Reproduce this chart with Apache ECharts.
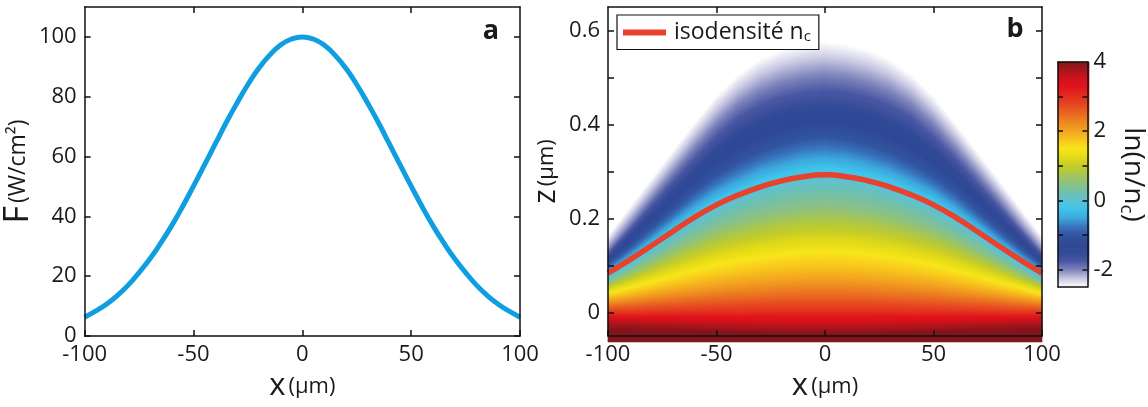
<!DOCTYPE html>
<html><head><meta charset="utf-8">
<script src="https://cdn.jsdelivr.net/npm/echarts@6/dist/echarts.min.js"></script>
<style>html,body{margin:0;padding:0;background:#fff}#c{width:1148px;height:407px}</style>
</head><body><div id="c"></div>
<script>
// ---------- Panel a : flux F(x) ----------
const xA = [-100,-95,-90,-85,-80,-75,-70,-65,-60,-55,-50,-45,-40,-35,-30,-25,-20,-15,-10,-5,0,
            5,10,15,20,25,30,35,40,45,50,55,60,65,70,75,80,85,90,95,100];
const fluxA = [6.3,8.3,10.6,13.5,17.0,21.2,25.8,31.1,36.9,43.3,50.1,57.1,64.2,71.3,77.9,84.1,89.5,93.9,97.3,99.3,100,
               99.3,97.3,93.9,89.5,84.1,77.9,71.3,64.2,57.1,50.1,43.3,36.9,31.1,25.8,21.2,17.0,13.5,10.6,8.3,6.3];

// ---------- Panel b : isodensity n_c line ----------
const xIso = [-100,-90,-80,-70,-60,-50,-40,-30,-20,-10,0,10,20,30,40,50,60,70,80,90,100];
const zIso = [0.084,0.112,0.142,0.173,0.203,0.229,0.250,0.267,0.280,0.289,0.293,
              0.289,0.280,0.267,0.250,0.229,0.203,0.173,0.142,0.112,0.084];

// ---------- Panel b : contour heights z (µm) of ln(n/nc) levels, at |x| = 0..100 ----------
const profileX = [0,10,20,30,40,50,60,70,80,90,100];
const contourLevels = [-2.5,-2,-1.5,-1,-0.5,0,0.5,1,1.5,2,2.5,3,3.5,4];
const zLevelM25 = [0.578,0.572,0.561,0.541,0.509,0.464,0.409,0.350,0.291,0.231,0.172];
const zLevelM20 = [0.510,0.505,0.494,0.476,0.448,0.407,0.357,0.304,0.250,0.195,0.142];
const zLevelM15 = [0.440,0.436,0.427,0.411,0.387,0.352,0.309,0.264,0.218,0.172,0.126];
const zLevelM10 = [0.380,0.375,0.363,0.347,0.325,0.298,0.265,0.226,0.187,0.148,0.112];
const zLevelM05 = [0.335,0.331,0.320,0.306,0.286,0.263,0.233,0.199,0.164,0.130,0.098];
const zLevel00  = [0.293,0.289,0.280,0.267,0.250,0.229,0.203,0.173,0.142,0.112,0.084];
const zLevelP05 = [0.234,0.231,0.224,0.214,0.202,0.186,0.166,0.143,0.119,0.096,0.074];
const zLevelP10 = [0.186,0.184,0.179,0.171,0.161,0.149,0.133,0.116,0.098,0.081,0.064];
const zLevelP15 = [0.138,0.137,0.133,0.127,0.120,0.111,0.100,0.088,0.076,0.064,0.052];
const zLevelP20 = [0.085,0.084,0.082,0.079,0.075,0.070,0.064,0.058,0.051,0.044,0.038];
const zLevelP25 = [0.048,0.048,0.047,0.045,0.043,0.041,0.038,0.035,0.032,0.028,0.025];
const zLevelP30 = [0.014,0.014,0.014,0.014,0.013,0.013,0.012,0.012,0.011,0.010,0.010];
const zLevelP35 = [-0.008,-0.008,-0.008,-0.007,-0.007,-0.006,-0.005,-0.004,-0.003,-0.002,-0.001];
const zLevelP40 = [-0.033,-0.033,-0.032,-0.031,-0.030,-0.029,-0.027,-0.026,-0.025,-0.024,-0.023];

// colour map, evenly spaced from -2.5 to 4 (step 0.25)
const colorStops = ['#ffffff','#c8c8e2','#8086bc','#4a57a3','#334b98','#2f4a97','#33559f','#3a74bd',
  '#3ea8dc','#40c4ec','#5cc2d4','#74c0ab','#8cc184','#a8c652','#c4cc2a','#e2da1a','#f8e51c',
  '#f8c81e','#f3a520','#ee8a20','#ea6b22','#e64b22','#e3301f','#e2161d','#d4121c','#ac161e','#82171c'];

// ticks
const ticksXa = [-100,-50,0,50,100];
const ticksXtop = [-50,0,50];
const ticksFa = [0,20,40,60,80,100];
const ticksZ = [0,0.1,0.2,0.3,0.4,0.5,0.6];
const labelsZ = [0,0.2,0.4,0.6];
const ticksCb = [-2,-1,0,1,2,3];
const labelsCb = [-2,0,2,4];

// ---------- build tables for the library ----------
const contourZ = [zLevelM25,zLevelM20,zLevelM15,zLevelM10,zLevelM05,zLevel00,zLevelP05,
                  zLevelP10,zLevelP15,zLevelP20,zLevelP25,zLevelP30,zLevelP35,zLevelP40];
const VMIN = -2.5, VMAX = 4, EPS = 0.001;
const NX = 217, NZ = 335, ZMIN = -0.05, ZMAX = 0.65;
const xCats = [], zCats = [], heat = [];
for (let i = 0; i < NX; i++) xCats.push((-100 + (i + 0.5) * 200 / NX).toFixed(3));
for (let k = 0; k < NZ; k++) zCats.push((ZMIN + (k + 0.5) * (ZMAX - ZMIN) / NZ).toFixed(4));
function contourAt(li, ax) {
  let j = Math.min(Math.floor(ax / 10), profileX.length - 2);
  const t = (ax - profileX[j]) / (profileX[j + 1] - profileX[j]);
  return contourZ[li][j] * (1 - t) + contourZ[li][j + 1] * t;
}
for (let i = 0; i < NX; i++) {
  const ax = Math.abs(+xCats[i]);
  const hs = contourLevels.map((_, li) => contourAt(li, ax));
  for (let k = 0; k < NZ; k++) {
    const z = +zCats[k];
    let v;
    if (z >= hs[0]) v = VMIN;
    else if (z <= hs[hs.length - 1]) v = VMAX;
    else {
      for (let li = 0; li < hs.length - 1; li++) {
        if (z <= hs[li] && z > hs[li + 1]) {
          const f = (hs[li] - z) / (hs[li] - hs[li + 1]);
          v = contourLevels[li] + f * (contourLevels[li + 1] - contourLevels[li]);
          break;
        }
      }
    }
    v = Math.min(VMAX - EPS, Math.max(VMIN + EPS, v));
    heat.push([i, k, v]);
  }
}
const NC = 225, cbCats = [], cbData = [];
for (let k = 0; k < NC; k++) {
  const v = VMIN + (k + 0.5) * (VMAX - VMIN) / NC;
  cbCats.push(v.toFixed(3));
  cbData.push([0, k, v]);
}

const FONT = '"Open Sans", sans-serif';
const TXT = '#1a1a1a';
const AX = { onZero: false, lineStyle: { color: '#111', width: 1.5 } };
function tickStyle(vals, len) { return { show: true, inside: true, length: len || 6, customValues: vals, lineStyle: { color: '#111', width: 1.5 } }; }
const lbl = (vals) => ({ show: true, customValues: vals, color: TXT, fontFamily: FONT, fontSize: 22, margin: 8 });
const nameRich = (big) => ({ x: { fontSize: big, fontFamily: FONT, color: TXT }, u: { fontSize: 22, fontFamily: FONT, color: TXT } });

const chart = echarts.init(document.getElementById('c'), null, { renderer: 'canvas' });
chart.setOption({
  animation: false,
  backgroundColor: '#fff',
  textStyle: { fontFamily: FONT },
  grid: [
    { left: 84, top: 7, width: 436, height: 335 },
    { left: 608, top: 7, width: 434, height: 335 },
    { left: 608, top: 7, width: 434, height: 335 },
    { left: 1058, top: 62, width: 31, height: 225 },
    { left: 1058, top: 62, width: 31, height: 225 }
  ],
  xAxis: [
    { gridIndex: 0, type: 'value', min: -100, max: 100, position: 'bottom', z: 10,
      axisLine: AX, axisTick: tickStyle(ticksXa), axisLabel: lbl(ticksXa), splitLine: { show: false },
      name: '{x|x} {u|(µm)}', nameLocation: 'middle', nameGap: 35,
      nameTextStyle: { color: TXT, rich: nameRich(31) } },
    { gridIndex: 0, type: 'value', min: -100, max: 100, position: 'top', z: 10,
      axisLine: AX, axisTick: tickStyle(ticksXtop), axisLabel: { show: false }, splitLine: { show: false } },
    { gridIndex: 1, type: 'value', min: -100, max: 100, position: 'bottom', z: 10,
      axisLine: AX, axisTick: tickStyle(ticksXa), axisLabel: lbl(ticksXa), splitLine: { show: false },
      name: '{x|x} {u|(µm)}', nameLocation: 'middle', nameGap: 35,
      nameTextStyle: { color: TXT, rich: nameRich(31) } },
    { gridIndex: 1, type: 'value', min: -100, max: 100, position: 'top', z: 10,
      axisLine: AX, axisTick: tickStyle(ticksXtop), axisLabel: { show: false }, splitLine: { show: false } },
    { gridIndex: 2, type: 'category', data: xCats, show: false },
    { gridIndex: 3, type: 'category', data: ['c'], show: false },
    { gridIndex: 4, type: 'value', min: 0, max: 1, position: 'bottom', z: 10, axisLine: AX,
      axisTick: { show: false }, axisLabel: { show: false }, splitLine: { show: false } },
    { gridIndex: 4, type: 'value', min: 0, max: 1, position: 'top', z: 10, axisLine: AX,
      axisTick: { show: false }, axisLabel: { show: false }, splitLine: { show: false } }
  ],
  yAxis: [
    { gridIndex: 0, type: 'value', min: 0, max: 110, position: 'left', z: 10,
      axisLine: AX, axisTick: tickStyle(ticksFa), axisLabel: lbl(ticksFa), splitLine: { show: false },
      name: '{x|F} {u|(W/cm²)}', nameLocation: 'middle', nameGap: 44,
      nameTextStyle: { color: TXT, rich: { x: { fontSize: 34, fontFamily: FONT, color: TXT }, u: { fontSize: 23, fontFamily: FONT, color: TXT } } } },
    { gridIndex: 0, type: 'value', min: 0, max: 110, position: 'right', z: 10,
      axisLine: AX, axisTick: tickStyle(ticksFa), axisLabel: { show: false }, splitLine: { show: false } },
    { gridIndex: 1, type: 'value', min: -0.05, max: 0.65, position: 'left', z: 10,
      axisLine: AX, axisTick: tickStyle(ticksZ), axisLabel: lbl(labelsZ), splitLine: { show: false },
      name: '{x|z} {u|(µm)}', nameLocation: 'middle', nameGap: 46,
      nameTextStyle: { color: TXT, rich: nameRich(31) } },
    { gridIndex: 1, type: 'value', min: -0.05, max: 0.65, position: 'right', z: 10,
      axisLine: AX, axisTick: tickStyle(ticksZ), axisLabel: { show: false }, splitLine: { show: false } },
    { gridIndex: 2, type: 'category', data: zCats, show: false },
    { gridIndex: 3, type: 'category', data: cbCats, show: false },
    { gridIndex: 4, type: 'value', min: VMIN, max: VMAX, position: 'left', z: 10,
      axisLine: AX, axisTick: tickStyle(ticksCb, 5), axisLabel: { show: false }, splitLine: { show: false } },
    { gridIndex: 4, type: 'value', min: VMIN, max: VMAX, position: 'right', z: 10,
      axisLine: AX, axisTick: tickStyle(ticksCb, 5), axisLabel: Object.assign(lbl(labelsCb), { margin: 6 }),
      splitLine: { show: false },
      name: '{a|ln(n/n}{s|c}{a|)}', nameLocation: 'middle', nameGap: 22, nameRotate: -90,
      nameTextStyle: { color: TXT, rich: { a: { fontSize: 28, lineHeight: 32, fontFamily: FONT, color: TXT },
        s: { fontSize: 19, lineHeight: 14, verticalAlign: 'bottom', fontFamily: FONT, color: TXT } } } }
  ],
  visualMap: {
    type: 'continuous', show: false, min: VMIN, max: VMAX, seriesIndex: [1, 3],
    inRange: { color: colorStops }
  },
  legend: {
    data: ['isodensité'], left: 617, top: 15, orient: 'horizontal',
    backgroundColor: '#fff', borderColor: '#111', borderWidth: 1.2, padding: [6, 8, 5, 6],
    itemWidth: 43, itemHeight: 6, icon: 'rect',
    formatter: '{t|isodensité n}{s|c}',
    textStyle: { color: TXT, rich: {
      t: { fontSize: 23, lineHeight: 24, fontFamily: FONT, color: TXT, padding: [0, 0, 0, 3] },
      s: { fontSize: 15, lineHeight: 10, verticalAlign: 'bottom', fontFamily: FONT, color: TXT } } },
    z: 20
  },
  graphic: [
    { type: 'text', z: 30, style: { x: 491, y: 31, text: 'a', align: 'center', verticalAlign: 'middle', font: 'bold 27px "Open Sans"', fill: TXT } },
    { type: 'text', z: 30, style: { x: 1015, y: 29, text: 'b', align: 'center', verticalAlign: 'middle', font: 'bold 27px "Open Sans"', fill: TXT } }
  ],
  series: [
    { type: 'line', name: 'F', xAxisIndex: 0, yAxisIndex: 0, smooth: true, showSymbol: false,
      data: xA.map((x, i) => [x, fluxA[i]]), lineStyle: { color: '#0f9fe0', width: 5 }, itemStyle: { color: '#0f9fe0' } },
    { type: 'heatmap', xAxisIndex: 4, yAxisIndex: 4, data: heat, progressive: 0, silent: true,
      emphasis: { disabled: true }, itemStyle: { borderWidth: 0 } },
    { type: 'line', name: 'isodensité', xAxisIndex: 2, yAxisIndex: 2, smooth: true, showSymbol: false, z: 5,
      data: xIso.map((x, i) => [x, zIso[i]]), lineStyle: { color: '#e8412c', width: 5.5 }, itemStyle: { color: '#e8412c' } },
    { type: 'heatmap', xAxisIndex: 5, yAxisIndex: 5, data: cbData, progressive: 0, silent: true,
      emphasis: { disabled: true }, itemStyle: { borderWidth: 0 } }
  ]
});
</script></body></html>
